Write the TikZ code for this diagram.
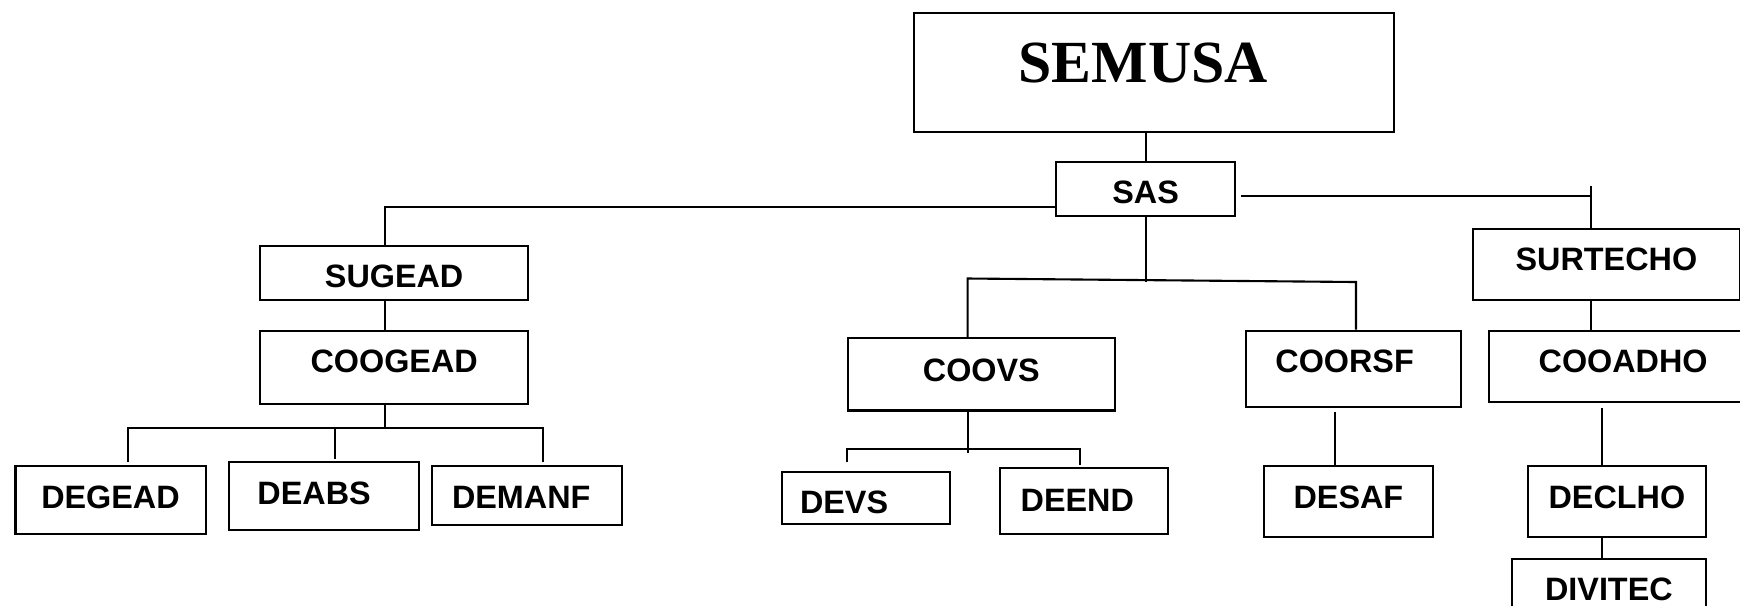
\documentclass[tikz,border=0pt]{standalone}
\usepackage{fontspec}
\setmainfont{Liberation Sans}
\newfontfamily\titlefont{Liberation Serif}
\usetikzlibrary{calc,positioning}

\begin{document}
\begin{tikzpicture}[
    x=0.01cm,y=-0.01cm,
    line width=0.6pt,
    box/.style n args={3}{draw,inner sep=0,align=center,anchor=north west,
      text width=#1mm,text height=#2mm,text depth=#3mm,
      font=\fontsize{9.2}{11}\selectfont\bfseries},
    title/.style={font=\titlefont\fontsize{17}{20}\selectfont\bfseries},
    nudge/.style={execute at begin node={\hspace*{#1}}},
  ]
  \useasboundingbox (0,0) rectangle (1740,605);
  \clip (0,0) rectangle (1740,605);
  %
  \node (semusa) [box={48}{6.9}{5.0},title,nudge=-2.2mm] at (913,12) {SEMUSA};
  \node (sas) [box={17.9}{4.1}{1.3}] at (1055,161) {SAS};
  %
  \node (sugead) [box={26.8}{4.1}{1.25}] at (259,245) {SUGEAD};
  \node (coogead) [box={26.8}{4.2}{3.13},below=2.89mm of sugead] {COOGEAD};
  \node (degead) [box={19}{4.2}{2.57}] at (14.4,465) {DEGEAD};
  \node (deabs) [box={19}{4.3}{2.57},nudge=-1.9mm] at (227.5,460.5) {DEABS};
  \node (demanf) [box={19}{4.2}{1.68},nudge=-1.1mm] at (430.6,465) {DEMANF};
  %
  \node (coovs) [box={26.7}{4.34}{2.9}] at (846.7,337) {COOVS};
  \node (devs) [box={16.8}{4.2}{1.0},nudge=-4.4mm] at (781,470.5) {DEVS};
  \node (deend) [box={16.8}{4.3}{2.24},nudge=-1.3mm] at (998.7,467.2) {DEEND};
  \node (coorsf) [box={21.5}{4.2}{3.45},nudge=-1.8mm] at (1245,329.6) {COORSF};
  \node (desaf) [box={16.9}{4.2}{2.9}] at (1262.8,465) {DESAF};
  %
  \node (surtecho) [box={26.75}{4.2}{2.9}] at (1471.5,227.5) {SURTECHO};
  \node (cooadho) [box={26.8}{4.2}{2.9}] at (1488,329.6) {COOADHO};
  \node (declho) [box={17.75}{4.2}{2.9}] at (1527,465) {DECLHO};
  \node (divitec) [box={19.35}{4.1}{3.0},below left=2mm and 0mm of declho.south east] {DIVITEC};
  %
  \coordinate (lj) at (385,207);
  \coordinate (gbus) at (385,428.3);
  \coordinate (g1) at (127.6,428.3);
  \coordinate (g2) at (335,428.3);
  \coordinate (g3) at (542.6,428.3);
  \coordinate (m1) at (967.6,278.5);
  \coordinate (m2) at (1356,282);
  \coordinate (v0) at (967.6,452.7);
  \coordinate (v1) at (846.7,449.4);
  \coordinate (v2) at (1079.7,449.4);
  \coordinate (sfj) at (1335,411.7);
  \coordinate (rj) at (1591,196.4);
  \coordinate (rtop) at (1591,185.5);
  \coordinate (hj) at (1602,408);
  %
  \draw (semusa.south -| sas.north) -- (sas.north);
  \draw (sas.west |- lj) -- (lj) -- (lj |- sugead.north);
  \draw (lj |- sugead.south) -- (lj |- coogead.north);
  \draw (gbus |- coogead.south) -- (gbus);
  \draw ($(g1)+(0,33.3)$) -- (g1) -- (g3) -- ++(0,33.3);
  \draw (g2) -- ++(0,31.1);
  %
  \draw (sas.south) -- (sas.south |- m2);
  \draw (m1 |- coovs.north) -- (m1) -- (m2) -- (m2 |- coorsf.north);
  \draw (v0 |- coovs.south) -- (v0);
  \draw ($(v1)+(0,12.2)$) -- (v1) -- (v2) -- ++(0,15.6);
  \draw (sfj) -- (sfj |- desaf.north);
  %
  \draw ($(sas.east |- rj)+(5,0)$) -- (rj);
  \draw (rtop) -- (rtop |- surtecho.north);
  \draw (rj |- surtecho.south) -- (rj |- cooadho.north);
  \draw (hj) -- (hj |- declho.north);
  \draw (hj |- declho.south) -- (hj |- divitec.north);
\end{tikzpicture}
\end{document}
